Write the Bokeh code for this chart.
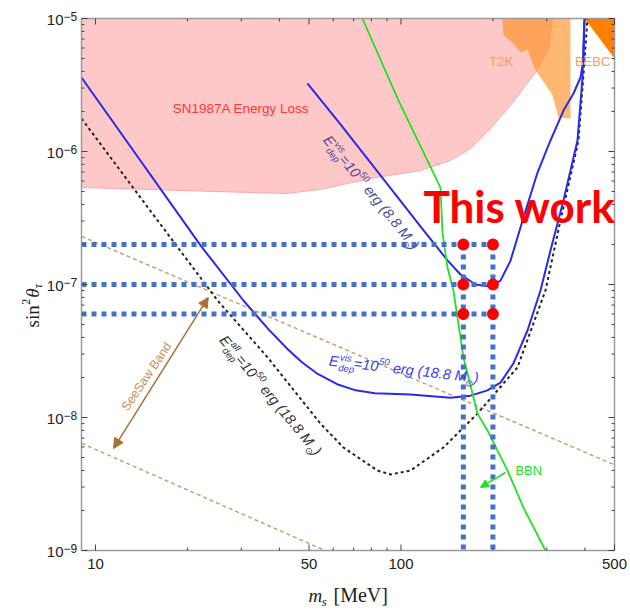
import math
from bokeh.plotting import figure
from bokeh.models import Label, Arrow, NormalHead, Range1d
from bokeh.embed import file_html
from bokeh.resources import INLINE

# ---------------- data ----------------
x_lo, x_hi = 9, 500
y_lo, y_hi = 1e-9, 1e-5
x_ticks = [10, 50, 100, 500]
x_tick_labels = ["10", "50", "100", "500"]
x_minor = [20, 30, 40, 60, 70, 80, 90, 200, 300, 400]
y_decades = [-9, -8, -7, -6, -5]

# SN1987A energy-loss excluded region (lower boundary)
sn_m = [9.0, 41.9, 54.5, 79.5, 115.8, 145.2, 168.9, 196.3, 228.3, 275.6, 304.0, 313.3]
sn_s = [5.36e-7, 4.83e-7, 5.18e-7, 6.26e-7, 7.20e-7, 8.55e-7, 1.05e-6, 1.49e-6, 2.22e-6, 3.93e-6, 5.95e-6, 1e-5]

# T2K region
t2k_m = [214.9, 216.5, 233.5, 246.1, 259.5, 265.4, 275.6, 301.7, 313.3, 327.8, 358.8, 358.8]
t2k_s = [1e-5, 7.45e-6, 6.49e-6, 5.55e-6, 5.85e-6, 5.09e-6, 4.06e-6, 3.03e-6, 2.64e-6, 1.80e-6, 1.77e-6, 1e-5]

# BEBC region
bebc_m = [398.8, 500, 500]
bebc_s = [1e-5, 1e-5, 5.0e-6]

# E_dep^vis = 1e50 erg (18.8 Msun)
vis188_m = [9.0, 22.1, 30.5, 36.8, 42.5, 47.4, 53.0, 61.8, 71.1, 82.1, 107.4, 145.2, 168.9, 191.9,
            211.7, 233.5, 259.5, 286.2, 308.6, 340.4, 378.3, 392.8, 395.8, 398.8]
vis188_s = [3.60e-6, 1.96e-7, 7.58e-8, 4.62e-8, 3.27e-8, 2.60e-8, 2.15e-8, 1.78e-8, 1.60e-8, 1.52e-8,
            1.49e-8, 1.41e-8, 1.46e-8, 1.60e-8, 1.83e-8, 2.55e-8, 4.51e-8, 9.02e-8, 1.80e-7, 4.29e-7,
            1.21e-6, 3.60e-6, 6.49e-6, 1e-5]

# E_dep^vis = 1e50 erg (8.8 Msun)
vis88_m = [49.4, 63.4, 85.7, 115.8, 142.0, 156.6, 175.3, 196.3, 211.7, 228.3, 251.8, 279.9, 308.6,
           340.4, 367.0, 386.9, 395.8, 398.8]
vis88_s = [3.25e-6, 1.60e-6, 6.61e-7, 2.73e-7, 1.52e-7, 1.19e-7, 1.0e-7, 9.66e-8, 1.07e-7, 1.51e-7,
           3.19e-7, 6.95e-7, 1.21e-6, 2.03e-6, 2.73e-6, 3.60e-6, 4.83e-6, 1e-5]

# E_dep^all = 1e50 erg (18.8 Msun)
all188_m = [9.0, 15.1, 25.1, 36.6, 54.5, 64.8, 83.8, 92.4, 107.4, 137.7, 160.2, 178.0, 207.0, 240.6,
            297.2, 332.7, 381.2, 398.8, 407.9]
all188_s = [1.77e-6, 3.60e-7, 7.58e-8, 2.83e-8, 9.0e-9, 5.95e-9, 3.99e-9, 3.73e-9, 3.99e-9, 5.95e-9,
            8.41e-9, 1.07e-8, 1.60e-8, 2.38e-8, 9.02e-8, 3.03e-7, 1.21e-6, 4.83e-6, 1e-5]

# BBN bound
bbn_m = [74.8, 98.1, 134.7, 136.8, 142.0, 148.5, 160.2, 178.0, 191.9, 223.2, 251.8, 297.2]
bbn_s = [1e-5, 2.42e-6, 5.36e-7, 2.42e-7, 1.34e-7, 9.01e-8, 2.83e-8, 1.07e-8, 7.99e-9, 3.99e-9, 2.10e-9, 1e-9]

# see-saw band edges
seesaw_m = [9, 500]
seesaw_hi = [2.3e-7, 4.4e-9]
seesaw_lo = [6.4e-9, 1.1e-10]

# this work benchmark points
tw_m = [160, 200]
tw_s = [2e-7, 1e-7, 6e-8]

# ---------------- layout (plot box inside a full-canvas frame) ----------------
FW, FH = 630, 612
BOX_L, BOX_R, BOX_T, BOX_B = 81, 614, 18, 550
pxx = (BOX_R - BOX_L) / math.log10(x_hi / x_lo)
pxy = (BOX_B - BOX_T) / math.log10(y_hi / y_lo)
xr = Range1d(x_lo * 10 ** (-BOX_L / pxx), x_hi * 10 ** ((FW - BOX_R) / pxx))
yr = Range1d(y_lo * 10 ** (-(FH - BOX_B) / pxy), y_hi * 10 ** (BOX_T / pxy))

p = figure(width=FW, height=FH, x_axis_type="log", y_axis_type="log", x_range=xr, y_range=yr,
           output_backend="svg", toolbar_location=None,
           min_border_left=0, min_border_right=0, min_border_top=0, min_border_bottom=0)
p.grid.visible = False
p.xaxis.visible = False
p.yaxis.visible = False
p.outline_line_color = None
p.background_fill_color = "white"
p.border_fill_color = "white"


def clip_y(ms, ss):
    """truncate a straight log-log segment list at the lower box edge"""
    out_m, out_s = [ms[0]], [ss[0]]
    for i in range(1, len(ms)):
        if ss[i] >= y_lo:
            out_m.append(ms[i]); out_s.append(ss[i])
        else:
            t = (math.log10(y_lo) - math.log10(ss[i - 1])) / (math.log10(ss[i]) - math.log10(ss[i - 1]))
            lm = math.log10(ms[i - 1]) + t * (math.log10(ms[i]) - math.log10(ms[i - 1]))
            out_m.append(10 ** lm); out_s.append(y_lo)
            break
    return out_m, out_s

# ---------------- regions ----------------
p.patch(sn_m + [x_lo], sn_s + [y_hi], fill_color="#ffc8c8", line_color="#ffa8a8", line_width=1)
p.patch(t2k_m, t2k_s, fill_color="#ff8c1a", fill_alpha=0.62, line_color=None)
p.patch(bebc_m, bebc_s, fill_color="#ff8000", line_color=None)

# ---------------- curves ----------------
SS = "#c8a070"
p.line(seesaw_m, seesaw_hi, line_color=SS, line_width=1.5, line_dash="4 3")
lo_m, lo_s = clip_y(seesaw_m, seesaw_lo)
p.line(lo_m, lo_s, line_color=SS, line_width=1.5, line_dash="4 3")
p.line(all188_m, all188_s, line_color="#222222", line_width=2, line_dash="3 3")
p.line(vis188_m, vis188_s, line_color="#2a2ae8", line_width=2)
p.line(vis88_m, vis88_s, line_color="#2a2ae8", line_width=2)
p.line(bbn_m, bbn_s, line_color="#22e022", line_width=1.8)

# ---------------- this work ----------------
BL = "#4472c4"
for s in tw_s:
    p.line([x_lo, tw_m[1]], [s, s], line_color=BL, line_width=5, line_dash="5 5")
for m in tw_m:
    p.line([m, m], [tw_s[0], y_lo], line_color=BL, line_width=5, line_dash="5 5")
p.scatter([m for s in tw_s for m in tw_m], [s for s in tw_s for m in tw_m],
          size=12, fill_color="#ff0000", line_color=None)

# ---------------- box + ticks ----------------
p.line([x_lo, x_hi, x_hi, x_lo, x_lo], [y_lo, y_lo, y_hi, y_hi, y_lo], line_color="#9a9a9a", line_width=1.5)
y_major = [10.0 ** d for d in y_decades]
y_minor = [k * 10.0 ** d for d in y_decades[:-1] for k in range(2, 10)]
TK = "#444444"

def ticks_y(vals, L):
    f = 10 ** (L / pxx)
    n = len(vals)
    p.segment([x_lo] * n, vals, [x_lo * f] * n, vals, line_color=TK, line_width=1)
    p.segment([x_hi] * n, vals, [x_hi / f] * n, vals, line_color=TK, line_width=1)

def ticks_x(vals, L):
    f = 10 ** (L / pxy)
    n = len(vals)
    p.segment(vals, [y_hi] * n, vals, [y_hi / f] * n, line_color=TK, line_width=1)
    p.segment(vals, [y_lo] * n, vals, [y_lo * f] * n, line_color=TK, line_width=1)

ticks_y(y_major, 6)
ticks_y(y_minor, 3)
ticks_x(x_ticks, 6)
ticks_x(x_minor, 3)

# ---------------- arrows ----------------
BRN = "#a87038"
p.add_layout(Arrow(x_start=11.46, y_start=5.85e-9, x_end=23.4, y_end=7.99e-8,
                   line_color=BRN, line_width=1.5,
                   start=NormalHead(size=10, fill_color=BRN, line_color=BRN),
                   end=NormalHead(size=10, fill_color=BRN, line_color=BRN)))
GR = "#22e022"
p.add_layout(Arrow(x_start=219.9, y_start=3.86e-9, x_end=182.1, y_end=2.98e-9,
                   line_color=GR, line_width=1.5,
                   end=NormalHead(size=8, fill_color=GR, line_color=GR)))

# ---------------- text helpers ----------------
SANS_W = {'E': .667, 'v': .5, 'i': .222, 's': .5, 'd': .556, 'e': .556, 'p': .556, 'a': .556, 'l': .222,
          '=': .584, ' ': .278, 'r': .333, 'g': .556, '(': .333, ')': .333, '.': .278, 'M': .833,
          '⊙': .84, '−': .584}
SERIF_W = {'s': .389, 'i': .278, 'n': .5, '2': .5, 'θ': .5, 'τ': .45, 'm': .722, ' ': .25, '[': .333,
           'M': .889, 'e': .444, 'V': .722, ']': .333}
MID_SANS, MID_SERIF = 0.3465, 0.3375

def tw_(txt, size, table):
    return sum(table.get(c, .556) for c in txt) * size

def rich(x, y, ang_deg, parts, color, font, mid, bx=0.0, by=0.0):
    """parts: (text, dx along baseline, dy of baseline, size, style); anchor = baseline start"""
    a = math.radians(ang_deg)
    ca, sa = math.cos(a), math.sin(a)
    for txt, dx, dyb, sz, style in parts:
        dy = dyb + mid * sz
        p.add_layout(Label(x=x, y=y, x_offset=bx + dx * ca - dy * sa, y_offset=by + dx * sa + dy * ca,
                           angle=a, text=txt, text_font=font, text_font_size=f"{sz}px",
                           text_font_style=style, text_color=color,
                           text_align="left", text_baseline="middle"))

def e_parts(sup, mass, S=14.5, s=9.5):
    W = SANS_W
    wE = tw_("E", S, W)
    parts = [("E", 0, 0, S, "italic"),
             (sup, wE + 1, 0.45 * S, s, "italic"),
             ("dep", wE + 0.5, -0.28 * S, s, "italic")]
    x = wE + max(tw_(sup, s, W), tw_("dep", s, W)) - 0.5
    parts.append(("=10", x, 0, S, "italic")); x += tw_("=10", S, W) + 0.3
    parts.append(("50", x, 0.45 * S, s, "italic")); x += tw_("50", s, W) + tw_(" ", S, W)
    t = "erg (" + mass + " M"
    parts.append((t, x, 0, S, "italic")); x += tw_(t, S, W) - 0.5
    parts.append(("⊙", x, -0.28 * S, s, "normal")); x += 0.8 * s
    parts.append((")", x, 0, S, "italic"))
    return parts

def lab(x, y, text, color, size, align="left", angle=0.0, font="Liberation Sans",
        style="normal", xo=0, yo=0):
    p.add_layout(Label(x=x, y=y, x_offset=xo, y_offset=yo, text=text, text_color=color,
                       text_font_size=f"{size}px", text_align=align, text_baseline="middle",
                       angle=math.radians(angle), text_font=font, text_font_style=style))

# ---------------- labels ----------------
lab(17.9, 2.1e-6, "SN1987A Energy Loss", "#ff3535", 13.5)
lab(213, 4.75e-6, "T2K", "#f5a050", 13, align="center")
lab(424, 4.75e-6, "BEBC", "#f5a050", 13, align="center")
lab(237, 4.0e-9, "BBN", "#22e022", 13)
lab(14.7, 2.03e-8, "SeeSaw Band", "#c09060", 12.5, align="center", angle=56)
lab(118.5, 3.86e-7, "This work", "#ff0000", 44, font="Lato", style="bold")

rich(55.3, 1.21e-6, -50.7, e_parts("vis", "8.8"), "#4a4a9e", "Liberation Sans", MID_SANS)
rich(57.9, 2.46e-8, -6.6, e_parts("vis", "18.8"), "#3a3af0", "Liberation Sans", MID_SANS)
rich(25.3, 3.79e-8, -50.3, e_parts("all", "18.8"), "#333333", "Liberation Sans", MID_SANS)

# x tick labels
for xv, xt in zip(x_ticks, x_tick_labels):
    lab(xv, y_lo, xt, "#222222", 15, align="center", yo=-13)

# y tick labels: "10" with raised exponent
for d in y_decades:
    lab(x_lo, 10.0 ** d, "10", "#222222", 15, align="right", xo=-18, yo=-1)
    lab(x_lo, 10.0 ** d, "−" + str(-d), "#222222", 12, align="left", xo=-18, yo=2)

# axis titles
SER = "Liberation Serif"
wm = tw_("m", 19, SERIF_W)
rich(x_lo, y_lo, 0, [("m", 0, 0, 19, "italic"), ("s", wm - 0.5, -4, 13, "italic"),
                     ("[MeV]", 25, 0, 20, "normal")],
     "#222222", SER, MID_SERIF, bx=308 - BOX_L, by=-(601 - BOX_B))
w_sin = tw_("sin", 19, SERIF_W)
w_2 = tw_("2", 12, SERIF_W)
w_th = tw_("θ", 19, SERIF_W)
rich(x_lo, 4.75e-8, 90, [("sin", 0, 0, 19, "normal"), ("2", w_sin + 0.5, 8, 12, "normal"),
                         ("θ", w_sin + w_2 + 1.5, 0, 19, "italic"),
                         ("τ", w_sin + w_2 + w_th + 1.5, -4, 12, "italic")],
     "#222222", SER, MID_SERIF, bx=38 - BOX_L, by=0)

open("out.html", "w").write(file_html(p, INLINE))
